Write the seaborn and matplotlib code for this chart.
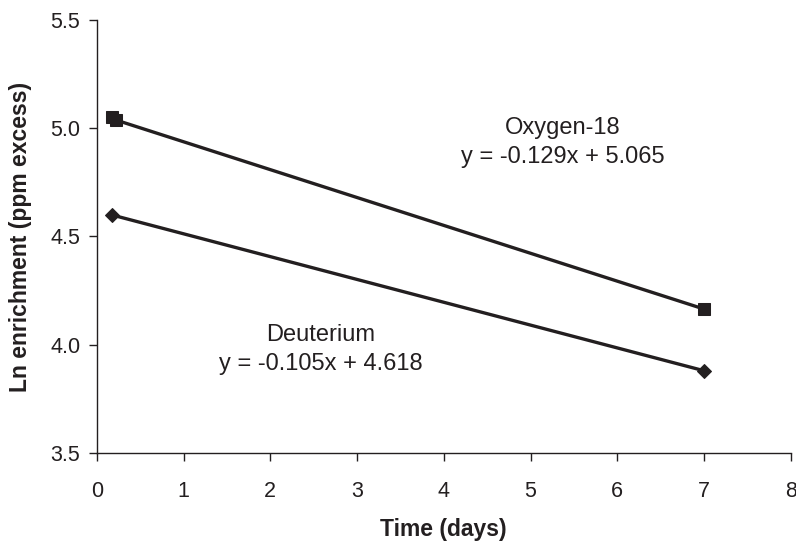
import matplotlib
matplotlib.use("Agg")
import matplotlib.pyplot as plt
import seaborn as sns
import pandas as pd

# Data
o18_days = [0.17, 0.22, 7.0]
o18_ln = [5.05, 5.038, 4.165]
h2_days = [0.17, 7.0]
h2_ln = [4.60, 3.88]

o18_label = "Oxygen-18\ny = -0.129x + 5.065"
h2_label = "Deuterium\ny = -0.105x + 4.618"
x_ticks = [0, 1, 2, 3, 4, 5, 6, 7, 8]
y_ticks = [3.5, 4.0, 4.5, 5.0, 5.5]

sns.set_theme(style="ticks")
plt.rcParams['font.family'] = ['Liberation Sans', 'DejaVu Sans']

df_o = pd.DataFrame({"Time": o18_days, "Ln": o18_ln})
df_h = pd.DataFrame({"Time": h2_days, "Ln": h2_ln})

fig = plt.figure(figsize=(7.96, 5.46), dpi=100)
ax = fig.add_axes([0.1216, 0.1703, 0.8718, 0.7931])

sns.lineplot(data=df_o, x="Time", y="Ln", ax=ax, color="#231f20", linewidth=2.4,
             marker="s", markersize=8, markeredgecolor="#231f20", sort=False)
sns.lineplot(data=df_h, x="Time", y="Ln", ax=ax, color="#231f20", linewidth=2.4,
             marker="D", markersize=7, markeredgecolor="#231f20", sort=False)

ax.set_xlim(0, 8)
ax.set_ylim(3.5, 5.5)
ax.set_xticks(x_ticks)
ax.set_xticklabels([str(t) for t in x_ticks])
ax.set_yticks(y_ticks)
ax.set_yticklabels([f"{t:.1f}" for t in y_ticks])
ax.tick_params(axis="both", labelsize=15.5, colors="#231f20", length=6, width=1,
               direction="out")
ax.tick_params(axis="x", pad=14)
ax.tick_params(axis="y", pad=6)
for s in ["top", "right"]:
    ax.spines[s].set_visible(False)
for s in ["left", "bottom"]:
    ax.spines[s].set_color("#231f20")
    ax.spines[s].set_linewidth(1.0)

ax.set_xlabel("Time (days)", fontsize=16.5, fontweight="bold", color="#231f20", labelpad=12)
ax.set_ylabel("Ln enrichment (ppm excess)", fontsize=16.5, fontweight="bold",
              color="#231f20", labelpad=13)

ax.text(5.37, 4.934, o18_label, ha="center", va="center", fontsize=17,
        color="#231f20", linespacing=1.4)
ax.text(2.58, 3.978, h2_label, ha="center", va="center", fontsize=17,
        color="#231f20", linespacing=1.4)

fig.savefig("out.png", dpi=100)
